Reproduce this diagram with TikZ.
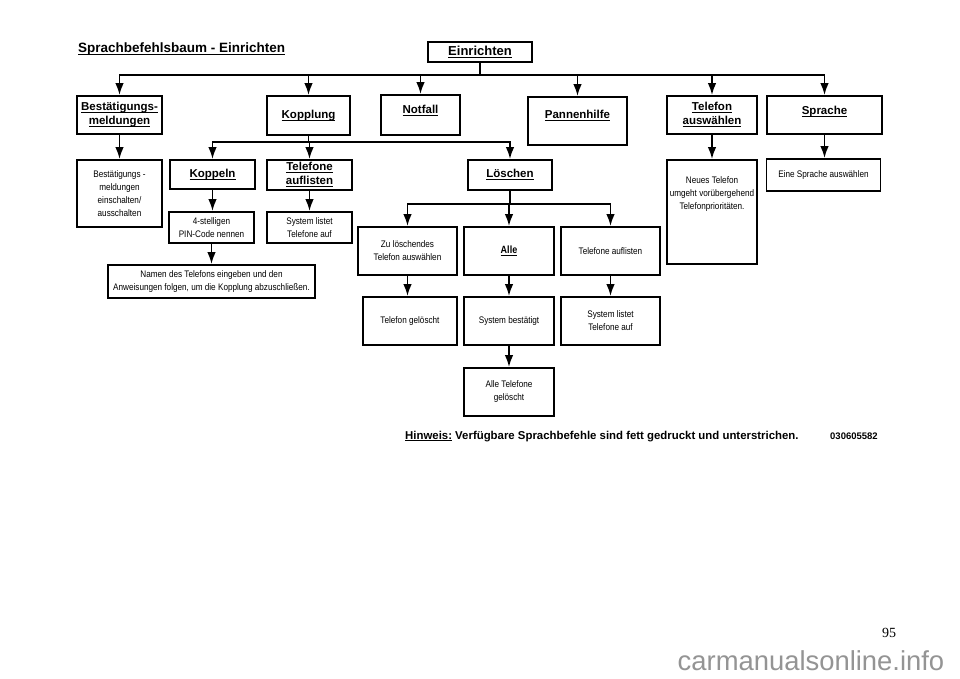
\documentclass[tikz,border=0pt]{standalone}
\usepackage{fontspec}
\setmainfont{Liberation Sans}
\newfontfamily\narrowf[FakeStretch=0.86]{Liberation Sans}
\newfontfamily\seriff{Liberation Serif}
\usetikzlibrary{arrows.meta}
\newcommand\ulx[1]{\setbox0\hbox{#1}\rlap{\rule[-2.4pt]{\wd0}{1.1pt}}\box0\relax}
\tikzset{
 bx/.style={draw, line width=1.8pt, inner sep=0pt, align=center},
 hd/.style={font=\bfseries\fontsize{11.5}{14}\selectfont},
 sm/.style={font=\narrowf\fontsize{9.5}{13}\selectfont},
 lab/.style={inner sep=0pt, align=center},
 ln/.style={line width=1.8pt, line cap=rect},
 arr/.style={line width=1.8pt, -{Latex[length=12pt,width=8.5pt]}},
}
\begin{document}
\begin{tikzpicture}[x=1pt,y=-1pt]
\useasboundingbox[fill=white] (0,0) rectangle (960,678);
% title
\node[lab, anchor=west, font=\bfseries\fontsize{13.5}{16}\selectfont] (title) at (78,49) {\ulx{Sprachbefehlsbaum - Einrichten}};
% level 0
\node[bx, font=\bfseries\fontsize{13}{15}\selectfont, minimum width=104, minimum height=20] (einr) at (480,52) {\ulx{Einrichten}};
% level 1
\node[bx, hd, minimum width=85, minimum height=38] (best) at (119.5,115) {\ulx{Bestätigungs-}\\\ulx{meldungen}};
\node[bx, hd, minimum width=83, minimum height=39] (kopp) at (308.5,115.5) {\ulx{Kopplung}};
\node[bx, minimum width=79, minimum height=40, label={[lab,hd,yshift=4pt]center:\ulx{Notfall}}] (notf) at (420.5,115) {};
\node[bx, minimum width=99, minimum height=48, label={[lab,hd,yshift=5pt]center:\ulx{Pannenhilfe}}] (pann) at (577.5,121) {};
\node[bx, hd, minimum width=90, minimum height=38] (tela) at (712,115) {\ulx{Telefon}\\\ulx{auswählen}};
\node[bx, minimum width=115, minimum height=38, label={[lab,hd,yshift=3pt]center:\ulx{Sprache}}] (spra) at (824.5,115) {};
% level 2
\node[bx, sm, minimum width=85, minimum height=67] (bsub) at (119.5,193.5) {Bestätigungs -\\meldungen\\einschalten/\\ausschalten};
\node[bx, hd, minimum width=85, minimum height=29] (koppeln) at (212.5,174.5) {\ulx{Koppeln}};
\node[bx, hd, minimum width=85, minimum height=30] (tauf) at (309.5,175) {\ulx{Telefone}\\\ulx{auflisten}};
\node[bx, hd, minimum width=84, minimum height=30] (losch) at (510,175) {\ulx{Löschen}};
\node[bx, minimum width=90, minimum height=104, label={[lab,sm,anchor=north,yshift=-17pt]north:Neues Telefon\\umgeht vorübergehend\\Telefonprioritäten.}] (neu) at (712,212) {};
\node[bx, sm, minimum width=114, minimum height=32] (eine) at (823.5,175) {Eine Sprache auswählen};
% level 3
\node[bx, sm, minimum width=85, minimum height=31] (pin) at (211.5,227.5) {4-stelligen\\PIN-Code nennen};
\node[bx, sm, minimum width=85, minimum height=31] (syst1) at (309.5,227.5) {System listet\\Telefone auf};
\node[bx, sm, minimum width=207, minimum height=33] (namen) at (211.5,281.5) {Namen des Telefons eingeben und den\\Anweisungen folgen, um die Kopplung abzuschließen.};
\node[bx, sm, minimum width=99, minimum height=48] (zul) at (407.5,251) {Zu löschendes\\Telefon auswählen};
\node[bx, font=\narrowf\bfseries\fontsize{10.5}{12}\selectfont, minimum width=90, minimum height=48] (alle) at (509,251) {\ulx{Alle}};
\node[bx, sm, minimum width=99, minimum height=48] (tauf2) at (610.5,251) {Telefone auflisten};
\node[bx, sm, minimum width=94, minimum height=48] (gel) at (410,321) {Telefon gelöscht};
\node[bx, sm, minimum width=90, minimum height=48] (sysb) at (509,321) {System bestätigt};
\node[bx, sm, minimum width=99, minimum height=48] (syst2) at (610.5,321) {System listet\\Telefone auf};
\node[bx, sm, minimum width=90, minimum height=48] (allt) at (509,392) {Alle Telefone\\gelöscht};
% connectors: top bus
\coordinate (b1) at (481,75);
\draw[ln] (einr.south) -- (einr.south |- b1);
\draw[ln] (best.north |- b1) -- (spra.north |- b1);
\foreach \c in {best,kopp,notf,pann,tela,spra} \draw[arr] (\c.north |- b1) -- (\c.north);
% Kopplung bus
\coordinate (b2) at (311,142);
\draw[ln] (kopp.south) -- (kopp.south |- b2);
\draw[ln] (koppeln.north |- b2) -- (losch.north |- b2);
\foreach \c in {koppeln,tauf,losch} \draw[arr] (\c.north |- b2) -- (\c.north);
% Loeschen bus
\coordinate (b3) at (510,204);
\draw[ln] (losch.south) -- (losch.south |- b3);
\draw[ln] (zul.north |- b3) -- (tauf2.north |- b3);
\foreach \c in {zul,alle,tauf2} \draw[arr] (\c.north |- b3) -- (\c.north);
% single arrows
\draw[arr] (best.south) -- (bsub.north);
\draw[arr] (koppeln.south) -- (koppeln.south |- pin.north);
\draw[arr] (tauf.south) -- (syst1.north);
\draw[arr] (pin.south) -- (namen.north);
\draw[arr] (zul.south) -- (zul.south |- gel.north);
\draw[arr] (alle.south) -- (sysb.north);
\draw[arr] (tauf2.south) -- (syst2.north);
\draw[arr] (sysb.south) -- (allt.north);
\draw[arr] (tela.south) -- (neu.north);
\draw[arr] (spra.south) -- (spra.south |- eine.north);
% note
\node[lab, anchor=base west, font=\bfseries\fontsize{11.4}{13}\selectfont] (hinw) at (405,439) {\ulx{Hinweis:} Verfügbare Sprachbefehle sind fett gedruckt und unterstrichen.};
\node[lab, anchor=base west, font=\bfseries\fontsize{9.5}{10}\selectfont] (code) at (830,439) {030605582};
\node[lab, font=\seriff\fontsize{14}{16}\selectfont] (pg) at (889,633) {95};
\node[lab, font=\fontsize{27.4}{30}\selectfont, text=black!42] (wm) at (811,661) {carmanualsonline.info};
\end{tikzpicture}
\end{document}
